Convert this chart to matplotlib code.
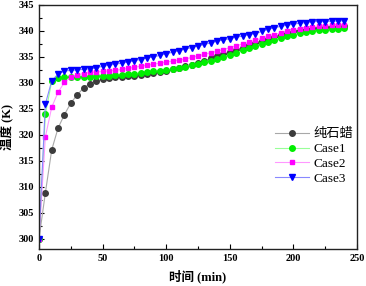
import matplotlib
matplotlib.use("Agg")
import matplotlib.pyplot as plt
from matplotlib.ticker import MultipleLocator
import numpy as np

time_min = list(range(0, 245, 5))

paraffin = [300.0, 308.8, 317.1, 321.3, 323.9, 326.1, 327.7, 329.0, 329.8, 330.3,
            330.7, 330.9, 331.1, 331.2, 331.3, 331.4, 331.6, 331.7, 331.9, 332.1,
            332.3, 332.6, 332.9, 333.2, 333.5, 333.9, 334.3, 334.7, 335.1, 335.5,
            335.9, 336.4, 336.8, 337.3, 337.7, 338.1, 338.5, 338.9, 339.3, 339.6,
            339.9, 340.1, 340.3, 340.5, 340.6, 340.7, 340.8, 340.9, 341.0]
case1 = [300.0, 324.0, 330.3, 330.9, 331.1, 331.2, 331.2, 331.2, 331.2, 331.3,
         331.3, 331.4, 331.5, 331.6, 331.7, 331.8, 331.9, 332.0, 332.2, 332.3,
         332.5, 332.7, 332.9, 333.1, 333.4, 333.7, 334.0, 334.3, 334.6, 335.0,
         335.4, 335.8, 336.3, 336.7, 337.1, 337.5, 337.9, 338.3, 338.7, 339.0,
         339.3, 339.6, 339.8, 340.0, 340.1, 340.2, 340.3, 340.4, 340.5]
case2 = [300.0, 319.6, 325.3, 328.2, 330.1, 331.1, 331.5, 331.8, 332.0, 332.1,
         332.2, 332.3, 332.4, 332.6, 332.8, 333.0, 333.2, 333.4, 333.6, 333.8,
         334.0, 334.2, 334.4, 334.6, 334.9, 335.2, 335.5, 335.8, 336.1, 336.4,
         336.8, 337.1, 337.5, 337.8, 338.2, 338.6, 339.0, 339.3, 339.6, 339.9,
         340.2, 340.4, 340.6, 340.8, 340.9, 341.0, 341.1, 341.1, 341.2]
case3 = [300.0, 325.9, 330.4, 331.7, 332.3, 332.4, 332.5, 332.6, 332.7, 332.9,
         333.2, 333.4, 333.6, 333.8, 334.0, 334.3, 334.5, 334.8, 335.0, 335.3,
         335.6, 335.9, 336.2, 336.5, 336.8, 337.1, 337.4, 337.7, 338.0, 338.3,
         338.5, 338.8, 339.0, 339.3, 339.5, 339.9, 340.3, 340.6, 340.9, 341.1,
         341.3, 341.5, 341.6, 341.8, 341.8, 341.8, 341.9, 341.9, 342.0]

labels = ["纯石蜡", "Case1", "Case2", "Case3"]

plt.rcParams['font.family'] = ['Liberation Serif', 'Noto Sans CJK SC']

fig = plt.figure(figsize=(3.66, 2.86), dpi=100)
ax = fig.add_axes([39/366, 1-249/286, (357-39)/366, (249-5)/286])

styles = [
    dict(color="#a8a8a8", marker="o", mfc="#3c3c3c", mec="#3c3c3c", ms=4.0),
    dict(color="#98ff98", marker="o", mfc="#00ee00", mec="#00ee00", ms=4.0),
    dict(color="#ff98ff", marker="s", mfc="#ff00ff", mec="#ff00ff", ms=3.4),
    dict(color="#8888ff", marker="v", mfc="#0000ff", mec="#0000ff", ms=4.0),
]
for series, lab, st in zip([paraffin, case1, case2, case3], labels, styles):
    ax.plot(time_min, series, lw=0.8, label=lab, **st)

ax.set_xlim(0, 250)
ax.set_ylim(298, 345)
ax.xaxis.set_major_locator(MultipleLocator(50))
ax.xaxis.set_minor_locator(MultipleLocator(25))
ax.yaxis.set_major_locator(MultipleLocator(5))
ax.yaxis.set_minor_locator(MultipleLocator(2.5))
ax.tick_params(which="both", direction="in", top=False, right=False, width=0.8)
ax.tick_params(which="major", length=3.5, labelsize=7.5)
ax.tick_params(which="minor", length=2)
for lab in ax.get_xticklabels() + ax.get_yticklabels():
    lab.set_fontweight("bold")
for s in ax.spines.values():
    s.set_linewidth(1.0)
    s.set_color("#222222")

ax.set_xlabel("时间 (min)", fontsize=9, fontweight="bold", labelpad=5)
ax.set_ylabel("温度 (K)", fontsize=9, fontweight="bold", labelpad=3)

leg = ax.legend(loc="center left", bbox_to_anchor=(0.742, 0.379), frameon=False,
                fontsize=9.5, handlelength=2.6, handletextpad=0.3, labelspacing=0.2,
                borderpad=0, borderaxespad=0)

fig.savefig("out.png", dpi=100)
